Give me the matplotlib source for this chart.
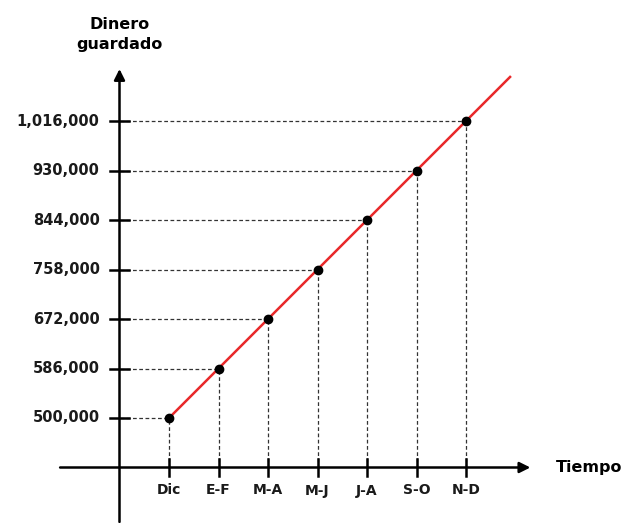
import numpy as np
import matplotlib.pyplot as plt

# datos
periodos = ['Dic', 'E-F', 'M-A', 'M-J', 'J-A', 'S-O', 'N-D']
dinero = [500000, 586000, 672000, 758000, 844000, 930000, 1016000]
paso = 86000

plt.rcParams['font.family'] = ['DejaVu Sans']

fig = plt.figure(figsize=(6.26, 5.23), dpi=100)
ax = fig.add_axes([0, 0, 1, 1])
ax.set_axis_off()

# escala: 49.5 px por paso en ambos ejes
px = 49.5
ax.set_xlim(-169 / px, 457 / px)
ax.set_ylim(500000 - 105 / px * paso, 500000 + 418 / px * paso)

x = np.arange(len(periodos))
y0 = dinero[0] - paso   # donde cruza el eje x
x0 = -1                 # donde cruza el eje y

# ejes con flecha
ax.annotate('', xy=(7.3, y0), xytext=(-2.2, y0),
            arrowprops=dict(arrowstyle='-|>', color='black', lw=1.8,
                            mutation_scale=16, shrinkA=0, shrinkB=0))
ax.annotate('', xy=(x0, dinero[-1] + 1.05 * paso), xytext=(x0, y0 - 1.1 * paso),
            arrowprops=dict(arrowstyle='-|>', color='black', lw=1.8,
                            mutation_scale=16, shrinkA=0, shrinkB=0))

# lineas punteadas guia
for xi, yi in zip(x, dinero):
    ax.plot([x0, xi], [yi, yi], ls=(0, (3, 2)), color='#333333', lw=0.9, zorder=1)
    ax.plot([xi, xi], [y0, yi], ls=(0, (3, 2)), color='#333333', lw=0.9, zorder=1)

# marcas de los ejes
tx = 9 / px
for yi in dinero:
    ax.plot([x0 - tx, x0 + tx], [yi, yi], color='black', lw=1.8, zorder=3)
    ax.text(x0 - 20 / px, yi, f'{yi:,}', ha='right', va='center',
            fontsize=10.5, fontweight='bold', color='#1a1a1a')
ty = 8.5 / px * paso
for xi, lab in zip(x, periodos):
    ax.plot([xi, xi], [y0 - ty, y0 + ty], color='black', lw=1.8, zorder=3)
    ax.text(xi, y0 - 23 / px * paso, lab, ha='center', va='center',
            fontsize=10, fontweight='bold', color='#1a1a1a')

# recta roja (se prolonga despues del ultimo punto)
xl = [0, 6.89]
yl = [dinero[0], dinero[0] + 6.89 * paso]
ax.plot(xl, yl, color='#e8282a', lw=1.8, zorder=4)
ax.scatter(x, dinero, s=36, color='black', zorder=5)

# titulos de ejes
ax.text(x0, dinero[-1] + 1.75 * paso, 'Dinero\nguardado', ha='center',
        va='center', fontsize=11.5, fontweight='bold', linespacing=1.45)
ax.text(589 / px - 169 / px, y0, 'Tiempo', ha='center', va='center',
        fontsize=11.5, fontweight='bold')

fig.savefig('out.png', dpi=100)
